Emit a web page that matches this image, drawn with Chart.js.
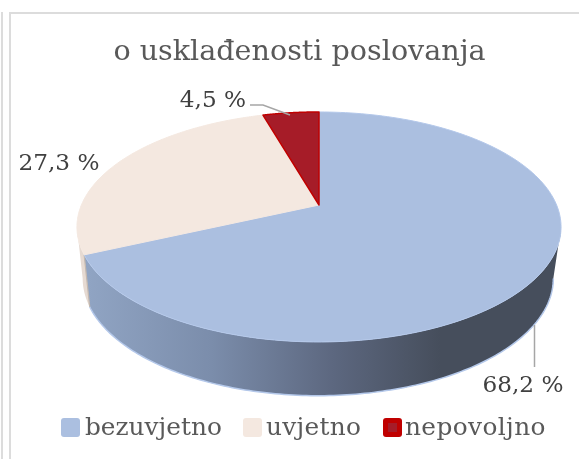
<!DOCTYPE html>
<html>
<head>
<meta charset="utf-8">
<title>o usklađenosti poslovanja</title>
<script src="https://cdn.jsdelivr.net/npm/chart.js@4"></script>
<style>
  html, body { margin: 0; padding: 0; background: #fff; }
  #wrap { position: relative; width: 579px; height: 459px; overflow: hidden; }
  canvas { display: block; }
</style>
</head>
<body>
<div id="wrap"><canvas id="chart" width="579" height="459"></canvas></div>
<script>
// ===== Chart data =====
const categories = ["bezuvjetno", "uvjetno", "nepovoljno"];
const shares = [68.2, 27.3, 4.5];
const fillColors = ["#abbfe0", "#f4e8e0", "#a61c28"];
const edgeColors = ["#b4c8ea", "#f4e8e0", "#c00000"];

const FONT = '"DejaVu Serif", serif';

// Perspective of the pie: top plate and the lower plate it sits on
const topPlate = { x: 319, y: 205, a: 110.8, b: 237.6, k: 0.191 };
const lowPlate = { x: 318, y: 256, a: 113, b: 231, k: 0.191 };

// Project an angle of an arc element on a plate
function project(plate, angle) {
  const u = Math.cos(angle);
  const v = -Math.sin(angle);
  const w = 1 + plate.k * v;
  return { x: plate.x + plate.b * u / w, y: plate.y - plate.a * v / w };
}

function traceArc(ctx, plate, from, to, first) {
  const steps = 160;
  for (let i = 0; i <= steps; i++) {
    const p = project(plate, from + (to - from) * i / steps);
    if (i === 0 && first) ctx.moveTo(p.x, p.y);
    else ctx.lineTo(p.x, p.y);
  }
}

// Side wall between two angles
function drawWall(ctx, from, to, fill) {
  ctx.beginPath();
  traceArc(ctx, topPlate, from, to, true);
  traceArc(ctx, lowPlate, to, from, false);
  ctx.closePath();
  ctx.fillStyle = fill;
  ctx.fill();
}

// Draws the arc elements of the chart as a tilted 3D pie
const tiltedPie = {
  id: "tiltedPie",
  beforeDatasetDraw(chart) {
    const ctx = chart.ctx;
    const arcs = chart.getDatasetMeta(0).data;
    const rightEdge = Math.asin(topPlate.k);
    const leftEdge = Math.PI - rightEdge;
    const blueEnd = arcs[0].endAngle;

    ctx.save();

    // walls, only the front half can be seen
    const shade = ctx.createLinearGradient(88, 0, 440, 0);
    shade.addColorStop(0, "#90a4c3");
    shade.addColorStop(0.35, "#7b8dab");
    shade.addColorStop(0.7, "#5c677f");
    shade.addColorStop(1, "#464e5c");
    drawWall(ctx, blueEnd, leftEdge, "#e6dad2");
    drawWall(ctx, rightEdge, blueEnd, shade);

    // light rim along the bottom
    ctx.beginPath();
    traceArc(ctx, lowPlate, rightEdge, blueEnd, true);
    ctx.strokeStyle = "#b4c8ea";
    ctx.lineWidth = 1.5;
    ctx.stroke();

    // cut edge where blue meets the cream wall
    const c1 = project(topPlate, blueEnd);
    const c2 = project(lowPlate, blueEnd);
    ctx.beginPath();
    ctx.moveTo(c1.x, c1.y);
    ctx.lineTo(c2.x, c2.y);
    ctx.strokeStyle = "#c4b9b0";
    ctx.lineWidth = 1.2;
    ctx.stroke();

    // top slices
    arcs.forEach((arc, i) => {
      ctx.beginPath();
      ctx.moveTo(topPlate.x, topPlate.y);
      traceArc(ctx, topPlate, arc.startAngle, arc.endAngle, false);
      ctx.closePath();
      ctx.fillStyle = fillColors[i];
      ctx.fill();
      ctx.strokeStyle = edgeColors[i];
      ctx.lineWidth = i === 2 ? 1.5 : 1;
      ctx.lineJoin = "round";
      ctx.stroke();
    });

    ctx.restore();
    return false;
  }
};

// Percent labels and their leader lines
const labelPlaces = [
  { x: 523, y: 392, line: [[534.5, 325], [534.5, 367]] },
  { x: 59, y: 170, line: [] },
  { x: 213, y: 107, line: [[250, 105], [263, 105], [290, 115]] }
];

const percentLabels = {
  id: "percentLabels",
  afterDatasetsDraw(chart) {
    const ctx = chart.ctx;
    ctx.save();
    shares.forEach((value, i) => {
      const place = labelPlaces[i];
      if (place.line.length) {
        ctx.beginPath();
        place.line.forEach((p, j) => j ? ctx.lineTo(p[0], p[1]) : ctx.moveTo(p[0], p[1]));
        ctx.strokeStyle = "#a6a6a6";
        ctx.lineWidth = 1.5;
        ctx.stroke();
      }
      ctx.font = "23.2px " + FONT;
      ctx.fillStyle = "#404040";
      ctx.textAlign = "center";
      ctx.textBaseline = "alphabetic";
      ctx.fillText(value.toFixed(1).replace(".", ",") + " %", place.x, place.y);
    });
    ctx.restore();
  }
};

// Legend row, the built-in one keeps too wide a gap after the swatch
const swatchLefts = [61, 243, 383];
const legendTextLefts = [85, 266, 405];
const legendSpacing = ["0px", "0.3px", "0.4px"];

const legendRow = {
  id: "legendRow",
  afterDraw(chart) {
    const ctx = chart.ctx;
    ctx.save();
    categories.forEach((name, i) => {
      ctx.beginPath();
      ctx.roundRect(swatchLefts[i], 418, 19, 19, 3);
      ctx.fillStyle = i === 2 ? edgeColors[i] : fillColors[i];
      ctx.fill();
      if (i === 2) {
        ctx.fillStyle = fillColors[i];
        ctx.fillRect(swatchLefts[i] + 5, 423, 9, 9);
      }
      ctx.font = "24.8px " + FONT;
      ctx.letterSpacing = legendSpacing[i];
      ctx.fillStyle = "#595959";
      ctx.textAlign = "left";
      ctx.textBaseline = "alphabetic";
      ctx.fillText(name, legendTextLefts[i], 435);
    });
    ctx.restore();
  }
};

// The light frame lines behind the chart
const cardFrame = {
  id: "cardFrame",
  beforeDraw(chart) {
    const ctx = chart.ctx;
    ctx.save();
    ctx.strokeStyle = "#dcdcdc";
    ctx.lineWidth = 2;
    ctx.beginPath();
    ctx.moveTo(2, 459);
    ctx.lineTo(2, 12);
    ctx.moveTo(10, 459);
    ctx.lineTo(10, 13);
    ctx.lineTo(579, 13);
    ctx.stroke();
    ctx.restore();
  }
};

new Chart(document.getElementById("chart"), {
  type: "pie",
  data: {
    labels: categories,
    datasets: [{
      data: shares,
      backgroundColor: fillColors,
      borderColor: edgeColors,
      borderWidth: 1.5
    }]
  },
  options: {
    responsive: false,
    animation: false,
    events: [],
    layout: { padding: { left: 40, right: 20, top: 8, bottom: 40 } },
    plugins: {
      title: {
        display: true,
        text: "o usklađenosti poslovanja",
        color: "#595959",
        font: { family: FONT, size: 28.6, weight: "normal" },
        padding: { top: 27, bottom: 10 }
      },
      legend: { display: false },
      tooltip: { enabled: false }
    }
  },
  plugins: [cardFrame, tiltedPie, percentLabels, legendRow]
});
</script>
</body>
</html>
